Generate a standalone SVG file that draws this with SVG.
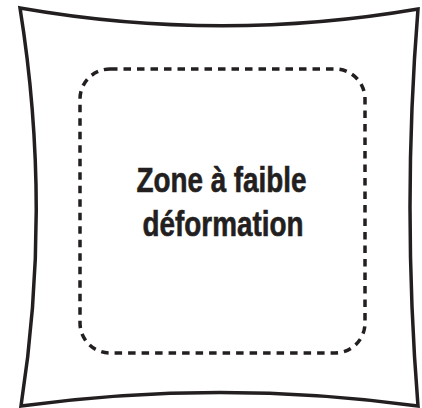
<svg xmlns="http://www.w3.org/2000/svg" width="422" height="408" viewBox="0 0 422 408">
<style>
.outline{fill:#fff;stroke:#231f20;stroke-width:3.5;stroke-linejoin:miter}
.zone{fill:none;stroke:#231f20;stroke-width:3.5;stroke-dasharray:7.5 6}
.label{font-family:"Liberation Sans",Arial,sans-serif;font-weight:bold;font-size:35px;fill:#231f20;stroke:#231f20;stroke-width:0.6;text-anchor:middle}
</style>
<rect width="422" height="408" fill="#fff"/>
<g id="piece">
<path class="outline" d="M20,8 Q220,43 418,9 Q402,207 418,406 Q220,379 21,406 Q52,207 20,8 Z"/>
</g>
<g id="zone-faible-deformation">
<rect class="zone" x="80" y="69" width="285" height="284" rx="30" ry="30"/>
<text class="label" x="221.5" y="192" textLength="170" lengthAdjust="spacingAndGlyphs">Zone à faible</text>
<text class="label" x="223" y="236" textLength="161" lengthAdjust="spacingAndGlyphs">déformation</text>
</g>
<g id="connectors"></g>
</svg>
